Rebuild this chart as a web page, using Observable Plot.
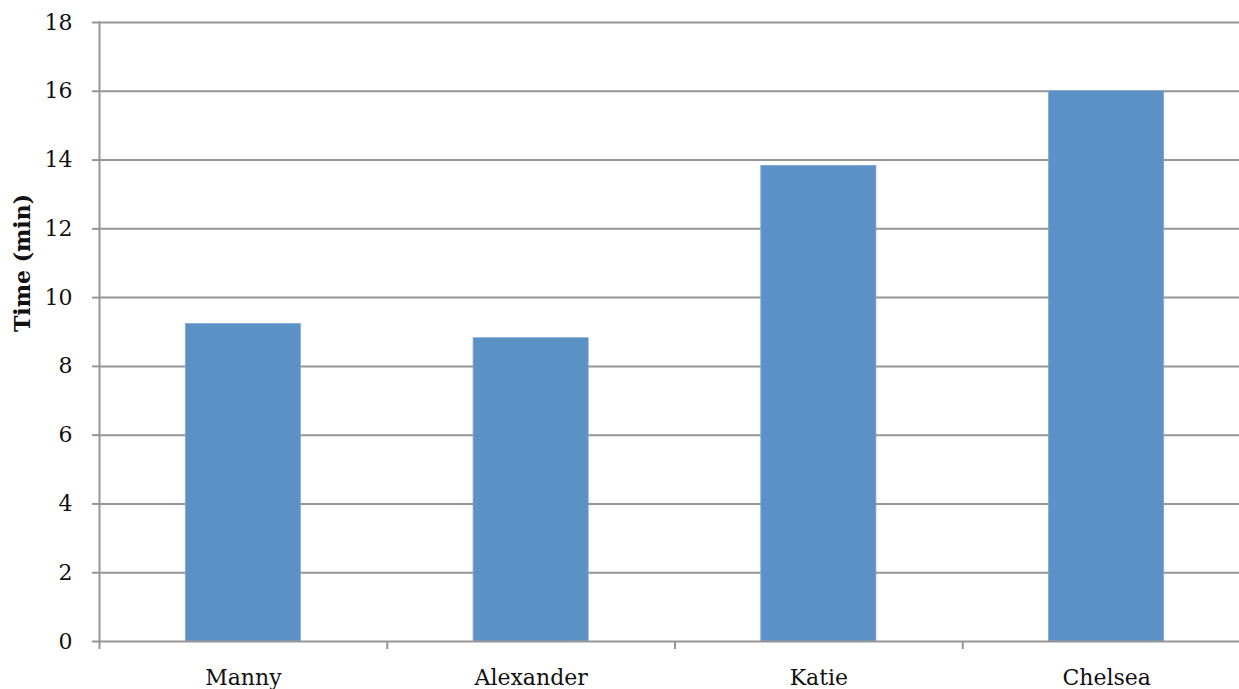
<!DOCTYPE html>
<html>
<head>
<meta charset="utf-8">
<script src="https://cdn.jsdelivr.net/npm/d3@7"></script>
<script src="https://cdn.jsdelivr.net/npm/@observablehq/plot@0.6"></script>
<style>
  html, body { margin: 0; padding: 0; background: #fff; }
  #chart svg { display: block; }
</style>
</head>
<body>
<div id="chart"></div>
<script>
const names = ["Manny", "Alexander", "Katie", "Chelsea"];
const times = [9.23, 8.82, 13.83, 16.0];
const yTicks = [0, 2, 4, 6, 8, 10, 12, 14, 16, 18];

const data = names.map((n, i) => ({name: n, time: times[i]}));

const W = 1239, H = 689;
const left = 99, xEnd = 1250;
const step = (xEnd - left) / names.length;
const grid = "#959595";
const font = "DejaVu Serif";

const plot = Plot.plot({
  width: W,
  height: H,
  marginTop: 22,
  marginBottom: 48,
  marginLeft: left,
  marginRight: 0,
  style: {fontFamily: font, fontSize: "22px", color: "#111", background: "#fff"},
  x: {domain: names, range: [left, xEnd], paddingInner: 0.6, paddingOuter: 0.3, round: false},
  y: {domain: [0, 18], ticks: yTicks},
  marks: [
    Plot.ruleY(yTicks.filter(d => d > 0), {stroke: grid, strokeWidth: 2}),
    Plot.barY(data, {x: "name", y: "time", fill: "#5b91c4", stroke: "#7fa8d6", strokeWidth: 0.8}),
    Plot.ruleY([0], {stroke: grid, strokeWidth: 2}),
    Plot.frame({anchor: "left", stroke: grid, strokeWidth: 2}),
    Plot.axisY({ticks: yTicks, tickSize: 7, tickPadding: 20, stroke: grid, strokeWidth: 2, label: null, fontSize: 22}),
    Plot.axisX({tickSize: 8, dx: -step / 2, text: null, stroke: grid, strokeWidth: 2, label: null}),
    Plot.axisX({tickSize: 0, tickPadding: 28, label: null, fontSize: 22}),
    Plot.text(["Time (min)"], {frameAnchor: "left", rotate: -90, dx: -77, fontWeight: "bold", fontSize: 22, fill: "#111"})
  ]
});
document.getElementById("chart").appendChild(plot);
</script>
</body>
</html>
